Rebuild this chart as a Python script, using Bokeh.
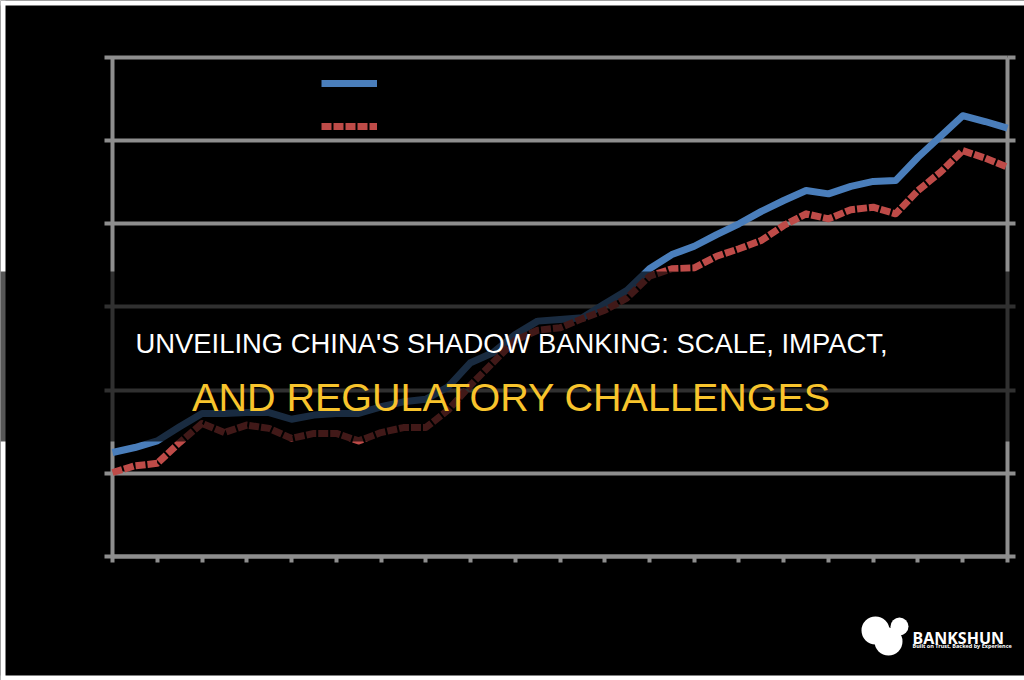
from bokeh.plotting import figure
from bokeh.models import (Range1d, FixedTicker, LinearAxis, BoxAnnotation, Label,
                          Legend, LegendItem, CustomJSTickFormatter)
from bokeh.core.properties import value
from bokeh.embed import file_html
from bokeh.resources import INLINE

# ---- data (axis has no labels, index of periods) ----
periods = list(range(41))
blue_series = [1.25, 1.31, 1.39, 1.56, 1.72, 1.72, 1.73, 1.73, 1.65, 1.70,
               1.72, 1.72, 1.80, 1.86, 1.89, 2.04, 2.33, 2.45, 2.67, 2.83,
               2.85, 2.87, 3.04, 3.20, 3.46, 3.63, 3.73, 3.87, 4.00, 4.15,
               4.28, 4.40, 4.36, 4.45, 4.51, 4.52, 4.80, 5.05, 5.30, 5.23, 5.15]
red_series = [1.01, 1.09, 1.12, 1.37, 1.60, 1.49, 1.58, 1.54, 1.42, 1.48,
              1.48, 1.39, 1.49, 1.55, 1.55, 1.76, 2.06, 2.33, 2.60, 2.72,
              2.75, 2.86, 2.96, 3.11, 3.37, 3.46, 3.47, 3.61, 3.70, 3.80,
              3.98, 4.12, 4.06, 4.17, 4.20, 4.12, 4.40, 4.62, 4.88, 4.79, 4.68]
x_ticks = list(range(0, 41, 2))
y_ticks = [0, 1, 2, 3, 4, 5, 6]
title_line1 = "UNVEILING CHINA'S SHADOW BANKING: SCALE, IMPACT,"
title_line2 = "AND REGULATORY CHALLENGES"
brand = "BANKSHUN"
tagline = "Built on Trust, Backed by Experience"

AXIS = "#8e8e8e"
BLUE = "#4a7ebb"
RED = "#be4b48"

# frame covers the whole canvas; axes are pinned inside it
p = figure(width=1024, height=680, x_range=Range1d(-5.006, 40.760), y_range=Range1d(-1.491, 6.685),
           output_backend="svg", toolbar_location=None,
           min_border_left=0, min_border_right=0, min_border_top=0, min_border_bottom=0,
           background_fill_color="black", border_fill_color="black", outline_line_color=None)

empty = CustomJSTickFormatter(code="return ''")

def style_axis(ax, ticks, tick_out, tick_in, loc, bounds):
    ax.ticker = FixedTicker(ticks=ticks)
    ax.fixed_location = loc
    ax.bounds = bounds
    ax.level = "underlay"
    ax.axis_line_color = AXIS
    ax.axis_line_width = 4
    ax.major_tick_line_color = AXIS
    ax.major_tick_line_width = 4
    ax.major_tick_out = tick_out
    ax.major_tick_in = tick_in
    ax.minor_tick_line_color = None
    ax.formatter = empty
    ax.major_label_standoff = 0

# left-axis ticks run across the plot and act as the horizontal gridlines
style_axis(p.xaxis[0], x_ticks, 6, 0, 0, (0, 40))
style_axis(p.yaxis[0], y_ticks, 8, 895, 0, (0, 6))
right = LinearAxis()
style_axis(right, y_ticks, 8, 0, 40, (0, 6))
p.add_layout(right, "right")

p.xgrid.visible = False
p.ygrid.visible = False

bl = p.line(periods, blue_series, line_color=BLUE, line_width=7, line_join="round")
rl = p.line(periods, red_series, line_color=RED, line_width=7, line_dash="10 2", line_join="round")

legend = Legend(items=[LegendItem(label=value(" "), renderers=[bl]),
                       LegendItem(label=value(" "), renderers=[rl])],
                location=(321, 544), glyph_width=56, glyph_height=20, label_height=20,
                spacing=23, padding=0, margin=0, border_line_color=None,
                background_fill_alpha=0, label_text_color="black", label_standoff=0)
p.add_layout(legend)

def sbox(left, right_, bottom, top, color, alpha=1.0, level="annotation", radius=0):
    return BoxAnnotation(left=left, right=right_, bottom=bottom, top=top,
                         left_units="screen", right_units="screen",
                         bottom_units="screen", top_units="screen",
                         fill_color=color, fill_alpha=alpha, line_color=None,
                         level=level, border_radius=radius)

# white page margins (left, top, bottom)
p.add_layout(sbox(0, 5, 0, 680, "white", level="underlay"))
p.add_layout(sbox(0, 1024, 675, 680, "white", level="underlay"))
p.add_layout(sbox(0, 1024, 0, 5, "white", level="underlay"))

# darkened title band
p.add_layout(sbox(0, 1024, 239, 409, "black", alpha=0.66, level="annotation"))

p.add_layout(Label(x=511, y=337, x_units="screen", y_units="screen", text=title_line1,
                   text_align="center", text_baseline="alphabetic", text_color="white",
                   text_font="Liberation Sans", text_font_size="27.4px", level="overlay"))
p.add_layout(Label(x=511, y=284, x_units="screen", y_units="screen", text=title_line2,
                   text_align="center", text_baseline="alphabetic", text_color="#f8c42c",
                   text_font="Liberation Sans", text_font_size="39.5px", level="overlay"))

# logo
p.add_layout(sbox(861, 889, 36, 64, "white", level="overlay", radius=14))
p.add_layout(sbox(874, 902, 25, 53, "white", level="overlay", radius=14))
p.add_layout(sbox(890, 908, 45, 63, "white", level="overlay", radius=9))
p.add_layout(Label(x=912, y=43, x_units="screen", y_units="screen", text=brand,
                   text_align="left", text_baseline="alphabetic", text_color="white",
                   text_font="Noto Sans", text_font_style="bold", text_font_size="16px",
                   level="overlay"))
p.add_layout(Label(x=912, y=35, x_units="screen", y_units="screen", text=tagline,
                   text_align="left", text_baseline="alphabetic", text_color="white",
                   text_font="Noto Sans", text_font_style="bold", text_font_size="5.5px",
                   level="overlay"))

open("out.html", "w").write(file_html(p, INLINE))
